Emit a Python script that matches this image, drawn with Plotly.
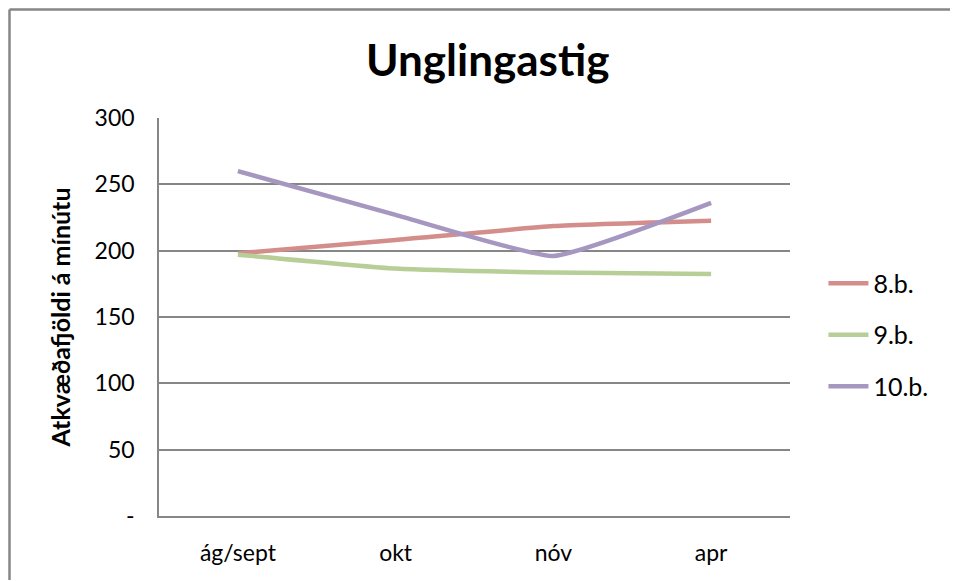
import plotly.graph_objects as go

months = ["ág/sept", "okt", "nóv", "apr"]
grade8 = [198, 208, 218.5, 222.5]
grade9 = [197, 186.5, 183.5, 182.5]
grade10 = [260, 227, 196, 236]
series_names = ["8.b.", "9.b.", "10.b."]
tick_vals = [0, 50, 100, 150, 200, 250, 300]
tick_text = ["-", "50", "100", "150", "200", "250", "300"]

colors = ["#D38E8C", "#B7CE96", "#A697C0"]
font = "Lato"

fig = go.Figure()
for i, (name, vals) in enumerate(zip(series_names, [grade8, grade9, grade10])):
    fig.add_trace(go.Scatter(
        x=months, y=vals, name=name, mode="lines",
        line=dict(color=colors[i], width=4.5, shape="spline", smoothing=0.4),
        legendgroup=name,
    ))

# page body has an 8px margin; keep the figure inside the window so nothing scrolls
fig.update_layout(
    width=950, height=573,
    margin=dict(l=151, r=168, t=110, b=65, autoexpand=False),
    paper_bgcolor="white", plot_bgcolor="white",
    font=dict(family=font, size=23, color="black"),
    title=dict(text="<b>Unglingastig</b>", x=0.505, xanchor="center",
               y=0.909, yanchor="middle",
               font=dict(family=font, size=44, color="black")),
    legend=dict(x=1.053, xanchor="left", y=0.455, yanchor="middle",
                tracegroupgap=16, font=dict(family=font, size=25),
                itemwidth=40),
    showlegend=True,
)
fig.update_xaxes(range=[-0.5, 3.5], showgrid=False, showline=True,
                 linecolor="#868686", linewidth=1.5,
                 ticks="", ticklabelstandoff=16, zeroline=False)
fig.update_yaxes(range=[0, 300], tickvals=tick_vals, ticktext=tick_text,
                 showgrid=True, gridcolor="#868686", gridwidth=1.5,
                 showline=True, linecolor="#868686", linewidth=1.5,
                 ticks="", ticklabelstandoff=18, zeroline=False,
                 title=dict(text="<b>Atkvæðafjöldi á mínútu</b>", standoff=17,
                            font=dict(family=font, size=25)))

# outer chart border (only top and left edges are visible), at the figure edge
bx0, by1 = (9.5 - 159) / 631, (516 - 9.5) / 398
fig.add_shape(type="line", xref="paper", yref="paper",
              x0=bx0, x1=(957 - 159) / 631, y0=by1, y1=by1,
              line=dict(color="#868686", width=2.5), layer="below")
fig.add_shape(type="line", xref="paper", yref="paper",
              x0=bx0, x1=bx0, y0=(516 - 580) / 398, y1=by1,
              line=dict(color="#868686", width=2.5), layer="below")

fig.write_html("out.html")
